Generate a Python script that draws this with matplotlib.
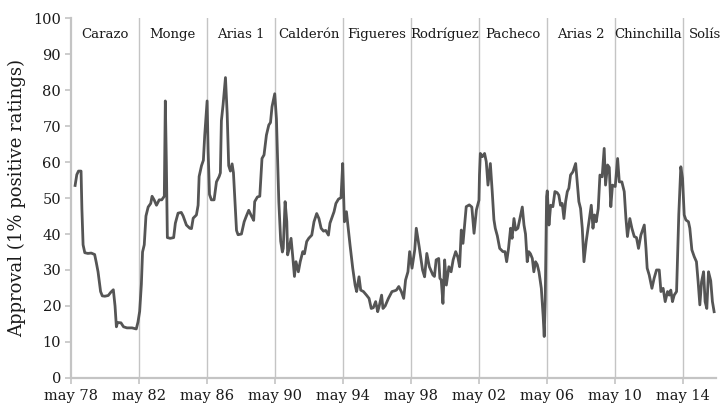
import numpy as np
import matplotlib
matplotlib.use("Agg")
import matplotlib.pyplot as plt

# approval series, x = years since may 1978
t_years = [0.25, 0.35, 0.45, 0.6, 0.65, 0.72, 0.82, 1.0, 1.2, 1.4, 1.5, 1.6, 1.75, 1.85, 2.0, 2.2, 2.35, 2.5, 2.6, 2.68,
           2.75, 2.95, 3.1, 3.3, 3.6, 3.85, 3.95, 4.05, 4.15, 4.22, 4.32, 4.42, 4.55, 4.7, 4.78, 4.9, 5.04, 5.2, 5.35, 5.5,
           5.56, 5.62, 5.68, 5.85, 6.05, 6.15, 6.31, 6.5, 6.61, 6.8, 7.0, 7.1, 7.2, 7.39, 7.49, 7.55, 7.69, 7.8, 7.88, 8.02,
           8.08, 8.16, 8.27, 8.43, 8.57, 8.73, 8.8, 8.86, 8.96, 9.1, 9.2, 9.29, 9.39, 9.49, 9.57, 9.65, 9.75, 9.84, 10.04, 10.2,
           10.33, 10.47, 10.63, 10.76, 10.82, 10.98, 11.12, 11.25, 11.37, 11.51, 11.65, 11.75, 11.84, 12.0, 12.1, 12.24, 12.35, 12.45, 12.5, 12.61,
           12.71, 12.76, 12.85, 12.96, 13.05, 13.16, 13.25, 13.39, 13.5, 13.65, 13.75, 13.88, 14.0, 14.18, 14.31, 14.47, 14.6, 14.73, 14.87, 15.0,
           15.16, 15.25, 15.35, 15.49, 15.6, 15.75, 15.9, 16.0, 16.1, 16.17, 16.22, 16.43, 16.59, 16.73, 16.82, 16.96, 17.06, 17.22, 17.4, 17.55,
           17.68, 17.8, 17.94, 18.06, 18.15, 18.29, 18.37, 18.5, 18.69, 18.9, 19.05, 19.16, 19.3, 19.45, 19.59, 19.7, 19.84, 19.94, 20.08, 20.24,
           20.33, 20.5, 20.7, 20.82, 20.95, 21.1, 21.31, 21.4, 21.5, 21.65, 21.72, 21.8, 21.9, 22.0, 22.1, 22.25, 22.38, 22.5, 22.65, 22.78,
           22.88, 22.98, 23.08, 23.27, 23.45, 23.6, 23.73, 23.87, 24.02, 24.05, 24.1, 24.22, 24.35, 24.45, 24.55, 24.69, 24.8, 24.9, 24.98, 25.1,
           25.24, 25.43, 25.55, 25.65, 25.76, 25.88, 25.97, 26.08, 26.18, 26.31, 26.47, 26.57, 26.67, 26.76, 26.86, 26.95, 27.05, 27.16, 27.25, 27.35,
           27.45, 27.55, 27.69, 27.8, 27.86, 27.92, 28.0, 28.04, 28.14, 28.24, 28.37, 28.49, 28.62, 28.72, 28.82, 28.92, 29.02, 29.12, 29.22, 29.31,
           29.41, 29.55, 29.71, 29.8, 29.9, 30.0, 30.1, 30.2, 30.33, 30.49, 30.63, 30.73, 30.82, 30.92, 31.04, 31.14, 31.27, 31.39, 31.47, 31.59,
           31.69, 31.78, 31.88, 32.04, 32.18, 32.28, 32.43, 32.57, 32.67, 32.76, 32.9, 33.02, 33.16, 33.29, 33.41, 33.55, 33.75, 33.85, 33.92, 34.04,
           34.2, 34.33, 34.47, 34.63, 34.73, 34.86, 34.98, 35.12, 35.22, 35.31, 35.41, 35.51, 35.65, 35.78, 35.9, 36.0, 36.1, 36.2, 36.35, 36.43,
           36.55, 36.69, 36.82, 36.92, 37.02, 37.12, 37.24, 37.33, 37.43, 37.53, 37.66, 37.76, 37.86]
approval = [53.5, 56.5, 57.5, 57.5, 47, 37, 34.8, 34.6, 34.7, 34.3, 32, 29.5, 24, 22.8, 22.7, 22.9, 23.8, 24.5, 20, 14.2,
            15.4, 15.3, 14.2, 13.9, 13.9, 13.6, 15.5, 18.5, 26, 35, 37, 45, 47.5, 48.5, 50.5, 49.5, 48, 49.5, 49.5, 50.5,
            77, 60, 39, 38.8, 39, 43, 45.8, 46, 45, 42.5, 41.6, 41.5, 44.4, 45.3, 48, 56, 59, 60.5, 67.5, 77,
            63, 51, 49.5, 49.5, 54.5, 56, 57, 71.5, 76, 83.5, 73.5, 59, 57.5, 59.5, 57, 50, 41, 39.8, 40, 43.4,
            45, 46.6, 45, 43.8, 49, 50.3, 50.5, 61, 62, 67.5, 70.3, 71, 75.4, 79, 72, 49, 38, 35, 36, 49,
            43.4, 34.2, 36, 38.8, 34.2, 28.2, 32.3, 29.5, 32.3, 35.1, 34.5, 37.9, 38.8, 39.7, 43.4, 45.7, 44.3, 41.6, 40.8, 41,
            39.7, 43, 44.3, 46.2, 48.5, 49.7, 50.1, 59.6, 43.4, 45, 46.2, 37, 30.5, 25.8, 24, 28.1, 24.4, 24, 23, 22.1,
            19.3, 19.5, 21.2, 18.4, 20, 23, 19.3, 20, 22.1, 24, 24.2, 24.4, 25.4, 24, 22.1, 27.2, 29.5, 35.1, 30.5, 35.6,
            41.6, 36.5, 30, 28.1, 34.6, 30.9, 28.6, 28.2, 32.8, 33.2, 27.7, 27.2, 20.7, 32.8, 25.8, 30.9, 29.5, 32.8, 35.1, 33.5,
            30.9, 41.1, 37.4, 47.6, 48.1, 47.5, 40.2, 46.7, 49.4, 56.4, 62.4, 61.5, 62.4, 60.1, 53.6, 59.6, 51.8, 44, 41.6, 39.5,
            36, 35.1, 35.1, 32.3, 36, 41.6, 38.8, 44.3, 41.1, 41.6, 45.3, 47.5, 42.5, 40, 32.3, 35.1, 34.5, 33.2, 29.5, 32.3,
            31.5, 29.5, 24.9, 17, 11.5, 21.7, 50.4, 52, 42.5, 48, 47.6, 51.8, 51.5, 50.8, 48, 48.5, 44.3, 49, 51.8, 52.7,
            56.4, 57.3, 59.6, 54.5, 49, 47.1, 41.6, 32.3, 37.9, 43.4, 48, 41.6, 45.3, 43.4, 47.1, 56.4, 55.9, 63.8, 53.6, 59.2,
            58.5, 47.6, 53.6, 53.2, 61, 54.5, 54.5, 51.8, 44.3, 39.3, 44.3, 41.6, 39.3, 39, 36, 39.7, 42.5, 36, 30.5, 28.6,
            24.9, 27.7, 30, 30, 24, 24.9, 21.2, 24, 23, 24.4, 21.2, 23, 24, 45.3, 58.7, 55.5, 45.3, 43.9, 43.4, 41.6,
            35.6, 33.7, 32.3, 26.7, 20.3, 26.7, 29.5, 21.2, 19.3, 29.5, 27, 21.2, 18.4]

# presidential terms
presidents = ["Carazo", "Monge", "Arias 1", "Calderón", "Figueres", "Rodríguez", "Pacheco", "Arias 2", "Chinchilla", "Solís"]
term_start = [0, 4, 8, 12, 16, 20, 24, 28, 32, 36]
label_pos = [2, 6, 10, 14, 18, 22, 26, 30, 34, 37.3]
tick_labels = ["may 78", "may 82", "may 86", "may 90", "may 94", "may 98", "may 02", "may 06", "may 10", "may 14"]

plt.rcParams['font.family'] = ['DejaVu Serif']

fig = plt.figure(figsize=(7.23, 4.05), dpi=100)
ax = fig.add_axes([0.098, 0.067, 0.893, 0.888])

grid_col = "#c4c4c4"
for s in term_start[1:]:
    ax.plot([s, s], [0, 100], color=grid_col, lw=1.0, zorder=1)

ax.plot(t_years, approval, color="#555555", lw=2.0, solid_joinstyle="round", zorder=3)

for name, p in zip(presidents, label_pos):
    ax.text(p, 95.5, name, ha="center", va="center", fontsize=9.5, color="#1a1a1a")

ax.set_xlim(0, 38.0)
ax.set_ylim(0, 100)
ax.set_xticks(term_start)
ax.set_xticklabels(tick_labels)
ax.set_yticks(np.arange(0, 101, 10))

for side in ["top", "right"]:
    ax.spines[side].set_visible(False)
for side in ["left", "bottom"]:
    ax.spines[side].set_color(grid_col)
    ax.spines[side].set_linewidth(1.6)
ax.tick_params(axis="both", colors=grid_col, labelcolor="#1a1a1a", labelsize=10.5, length=4, width=1.2)
ax.tick_params(axis="x", pad=4)
ax.tick_params(axis="y", pad=3)

ax.set_ylabel("Approval (1% positive ratings)", fontsize=13, color="#1a1a1a", labelpad=5)

plt.savefig("out.png", dpi=100)
